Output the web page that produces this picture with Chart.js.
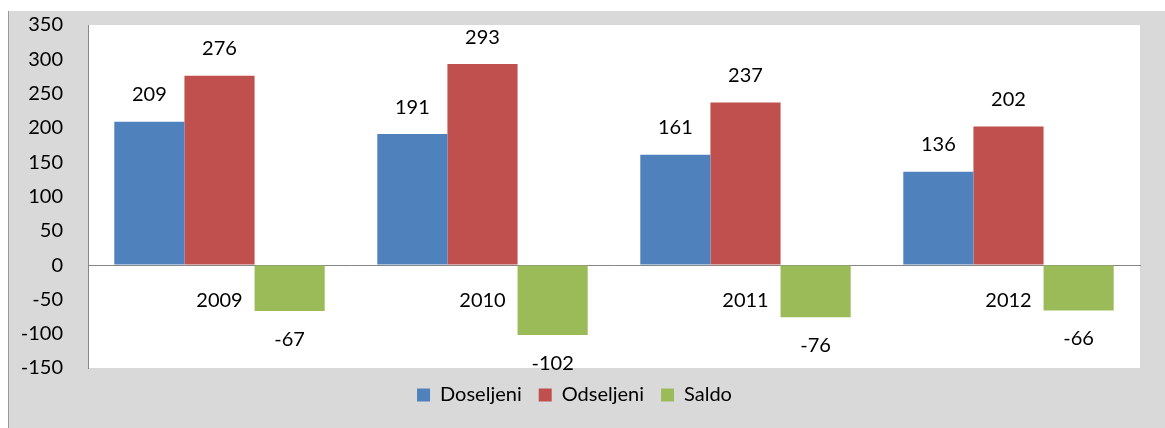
<!DOCTYPE html>
<html>
<head>
<meta charset="utf-8">
<script src="https://cdn.jsdelivr.net/npm/chart.js@4.4.1/dist/chart.umd.min.js"></script>
<style>
  body { margin: 0; background: #fff; }
  #wrap {
    position: absolute; left: 8px; top: 11px;
    width: 1157px; height: 417px;
    background: #d9d9d9;
    border-left: 1px solid #9a9a9a;
    box-sizing: border-box;
  }
  #migChart { display: block; }
</style>
</head>
<body>
<div id="wrap">
  <canvas id="migChart" width="1156" height="417"></canvas>
</div>
<script>
// chart data
const years = ['2009', '2010', '2011', '2012'];
const doseljeni = [209, 191, 161, 136];
const odseljeni = [276, 293, 237, 202];
const saldo = [-67, -102, -76, -66];
const yMin = -150;
const yMax = 350;
const yStep = 50;

const labelFont = { family: 'Lato', size: 20 };

// white plot area on the grey background
const plotBackground = {
    id: 'plotBackground',
    beforeDraw(chart) {
        const { ctx, chartArea } = chart;
        ctx.save();
        ctx.fillStyle = '#ffffff';
        ctx.fillRect(chartArea.left, chartArea.top,
                     chartArea.right - chartArea.left, chartArea.bottom - chartArea.top);
        ctx.restore();
    }
};

// value labels outside the bar ends
const valueLabels = {
    id: 'valueLabels',
    afterDatasetsDraw(chart) {
        const ctx = chart.ctx;
        ctx.save();
        ctx.font = labelFont.size + 'px ' + labelFont.family;
        ctx.fillStyle = '#000';
        ctx.textAlign = 'center';
        ctx.textBaseline = 'middle';
        chart.data.datasets.forEach((ds, i) => {
            chart.getDatasetMeta(i).data.forEach((bar, j) => {
                const v = ds.data[j];
                const y = v >= 0 ? bar.y - 27 : bar.y + 28;
                ctx.fillText(String(v), bar.x, y);
            });
        });
        ctx.restore();
    }
};

const chartConfig = {
    type: 'bar',
    data: {
        labels: years,
        datasets: [{
            label: 'Doseljeni',
            data: doseljeni,
            backgroundColor: '#4f81bd'
        }, {
            label: 'Odseljeni',
            data: odseljeni,
            backgroundColor: '#c0504d'
        }, {
            label: 'Saldo',
            data: saldo,
            backgroundColor: '#9bbb59'
        }]
    },
    options: {
        responsive: false,
        animation: false,
        datasets: {
            bar: { barPercentage: 1, categoryPercentage: 0.8, borderWidth: 0 }
        },
        layout: { padding: { top: 14, right: 25, bottom: 13, left: 0 } },
        scales: {
            x: {
                position: { y: 0 },
                grid: { display: false, drawTicks: false },
                border: { color: '#868686', width: 1 },
                ticks: { color: '#000', font: labelFont, padding: 23 }
            },
            y: {
                min: yMin,
                max: yMax,
                // invisible tick marks keep the labels away from the axis line
                grid: { color: 'rgba(0,0,0,0)', drawOnChartArea: false, drawTicks: true, tickLength: 25 },
                border: { color: '#868686', width: 1 },
                ticks: { stepSize: yStep, color: '#000', font: labelFont, padding: 0 },
                afterFit(scale) { scale.width = 79; }
            }
        },
        plugins: {
            legend: {
                position: 'bottom',
                labels: {
                    color: '#000',
                    font: labelFont,
                    boxWidth: 13,
                    boxHeight: 13,
                    padding: 17
                }
            },
            tooltip: { enabled: false }
        }
    },
    plugins: [plotBackground, valueLabels]
};

new Chart(document.getElementById('migChart'), chartConfig);
</script>
</body>
</html>
